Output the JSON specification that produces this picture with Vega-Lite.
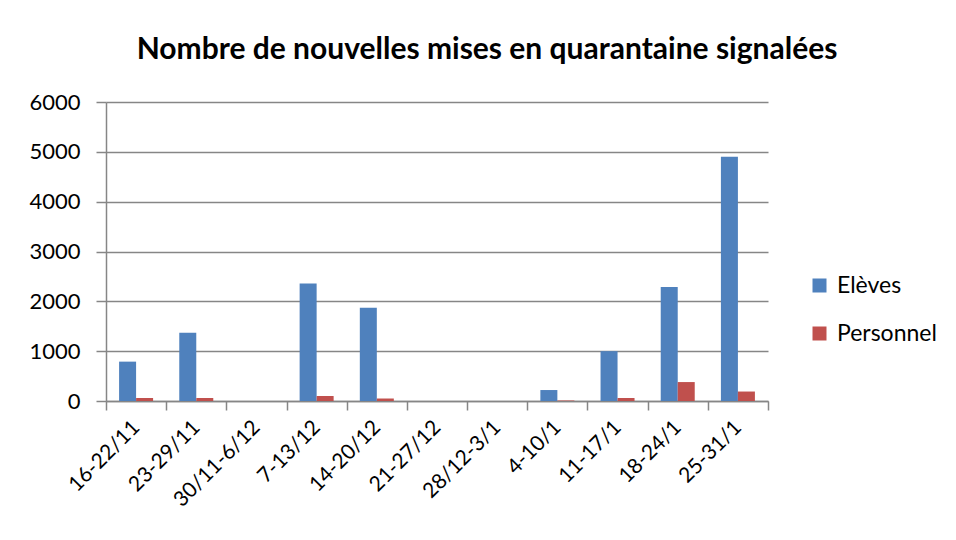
{
  "$schema": "https://vega.github.io/schema/vega-lite/v6.json",
  "autosize": "none",
  "width": 662,
  "height": 299,
  "padding": {"left": 106, "top": 102, "right": 188, "bottom": 139},
  "background": "white",
  "title": {
    "text": "Nombre de nouvelles mises en quarantaine signalées",
    "font": "Lato",
    "fontSize": 30,
    "fontWeight": "bold",
    "color": "black",
    "anchor": "middle",
    "dx": 50,
    "baseline": "alphabetic",
    "offset": 2
  },
  "data": {
    "values": [
      {"semaine": "16-22/11", "groupe": "Elèves", "n": 790},
      {"semaine": "16-22/11", "groupe": "Personnel", "n": 60},
      {"semaine": "23-29/11", "groupe": "Elèves", "n": 1370},
      {"semaine": "23-29/11", "groupe": "Personnel", "n": 60},
      {"semaine": "30/11-6/12", "groupe": "Elèves", "n": 0},
      {"semaine": "30/11-6/12", "groupe": "Personnel", "n": 0},
      {"semaine": "7-13/12", "groupe": "Elèves", "n": 2360},
      {"semaine": "7-13/12", "groupe": "Personnel", "n": 100},
      {"semaine": "14-20/12", "groupe": "Elèves", "n": 1870},
      {"semaine": "14-20/12", "groupe": "Personnel", "n": 50},
      {"semaine": "21-27/12", "groupe": "Elèves", "n": 0},
      {"semaine": "21-27/12", "groupe": "Personnel", "n": 0},
      {"semaine": "28/12-3/1", "groupe": "Elèves", "n": 0},
      {"semaine": "28/12-3/1", "groupe": "Personnel", "n": 0},
      {"semaine": "4-10/1", "groupe": "Elèves", "n": 220},
      {"semaine": "4-10/1", "groupe": "Personnel", "n": 10},
      {"semaine": "11-17/1", "groupe": "Elèves", "n": 1000},
      {"semaine": "11-17/1", "groupe": "Personnel", "n": 60},
      {"semaine": "18-24/1", "groupe": "Elèves", "n": 2290},
      {"semaine": "18-24/1", "groupe": "Personnel", "n": 380},
      {"semaine": "25-31/1", "groupe": "Elèves", "n": 4900},
      {"semaine": "25-31/1", "groupe": "Personnel", "n": 190}
    ]
  },
  "mark": {"type": "bar"},
  "encoding": {
    "x": {
      "field": "semaine",
      "type": "nominal",
      "sort": null,
      "title": null,
      "scale": {"paddingInner": 0, "paddingOuter": 0},
      "axis": {
        "tickBand": "extent",
        "labelAngle": -45,
        "labelAlign": "right",
        "labelBaseline": "middle",
        "labelFont": "Lato",
        "labelFontSize": 21,
        "labelColor": "black",
        "labelPadding": 14,
        "tickSize": 9,
        "tickColor": "#868686",
        "tickWidth": 1.5,
        "domainColor": "#868686",
        "domainWidth": 1.5
      }
    },
    "xOffset": {
      "field": "groupe",
      "type": "nominal",
      "scale": {"paddingInner": 0, "paddingOuter": 0.77}
    },
    "y": {
      "field": "n",
      "type": "quantitative",
      "title": null,
      "scale": {"domain": [0, 6000], "nice": false},
      "axis": {
        "values": [0, 1000, 2000, 3000, 4000, 5000, 6000],
        "format": "d",
        "labelFont": "Lato",
        "labelFontSize": 22,
        "labelColor": "black",
        "labelPadding": 16,
        "tickSize": 10,
        "tickColor": "#868686",
        "tickWidth": 1.5,
        "gridColor": "#868686",
        "gridWidth": 1.5,
        "domainColor": "#868686",
        "domainWidth": 1.5
      }
    },
    "color": {
      "field": "groupe",
      "type": "nominal",
      "title": null,
      "scale": {"domain": ["Elèves", "Personnel"], "range": ["#4F81BD", "#C0504D"]},
      "legend": {
        "orient": "none",
        "legendX": 702,
        "legendY": 172,
        "symbolType": "square",
        "symbolSize": 196,
        "symbolStrokeWidth": 0,
        "labelFont": "Lato",
        "labelFontSize": 23,
        "labelColor": "black",
        "rowPadding": 24,
        "labelOffset": 6
      }
    }
  },
  "config": {"view": {"stroke": null}}
}
